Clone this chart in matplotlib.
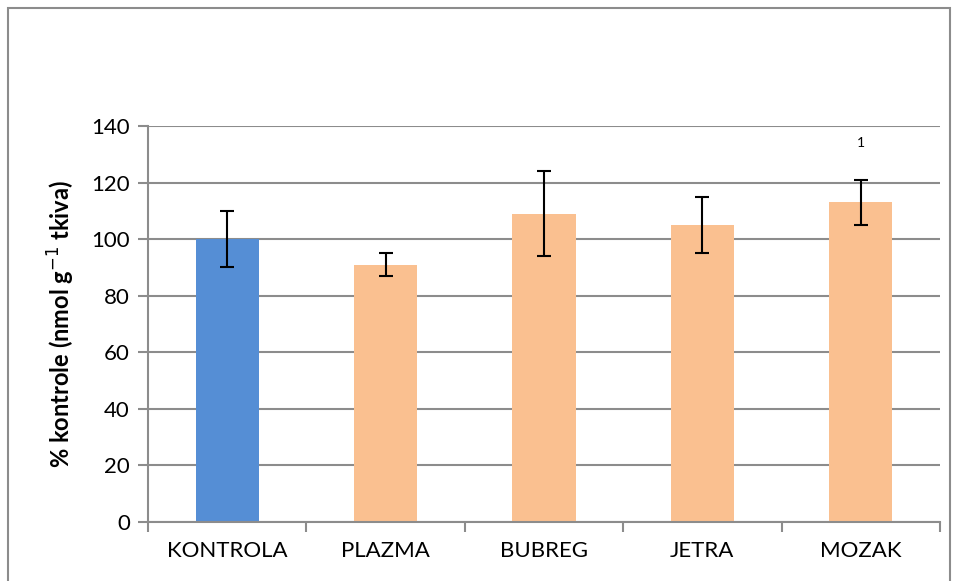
import numpy as np
import matplotlib.pyplot as plt
from matplotlib.patches import Rectangle

categories = ['KONTROLA', 'PLAZMA', 'BUBREG', 'JETRA', 'MOZAK']
values = [100, 91, 109, 105, 113]
errors = [10, 4, 15, 10, 8]
bar_colors = ['#558ED5', '#FAC090', '#FAC090', '#FAC090', '#FAC090']
note_text = '1'
note_value = 134

plt.rcParams['font.family'] = ['Lato', 'DejaVu Sans']

fig = plt.figure(figsize=(9.57, 5.81), dpi=100)
ax = fig.add_axes([0.1547, 0.1015, 0.8275, 0.6816])

x = np.arange(len(categories))
ax.bar(x, values, width=0.4, color=bar_colors, zorder=2)
ax.errorbar(x, values, yerr=errors, fmt='none', ecolor='black',
            elinewidth=1.5, capsize=5, capthick=1.5, zorder=3)
ax.text(x[-1], note_value, note_text, ha='center', va='center', fontsize=10)

ax.set_xlim(-0.5, len(categories) - 0.5)
ax.set_ylim(0, 140)
ax.set_yticks(np.arange(0, 141, 20))
ax.set_xticks(x)
ax.set_xticklabels(categories)
ax.set_xticks(np.arange(-0.5, len(categories), 1), minor=True)

ax.grid(axis='y', color='#8c8c8c', linewidth=1.5, zorder=0)
ax.set_axisbelow(True)
for s in ['top', 'right']:
    ax.spines[s].set_visible(False)
for s in ['left', 'bottom']:
    ax.spines[s].set_color('#8c8c8c')
    ax.spines[s].set_linewidth(1.5)

ax.tick_params(axis='x', which='major', length=0, pad=14, labelsize=16)
ax.tick_params(axis='x', which='minor', length=7, width=1.5, color='#8c8c8c')
ax.tick_params(axis='y', length=7, width=1.5, color='#8c8c8c', labelsize=16, pad=6)

ax.set_ylabel('% kontrole (nmol g$^{-1}$ tkiva)', fontsize=17, fontweight='bold', labelpad=10)

fig.patches.append(Rectangle((8 / 957, -0.05), 942 / 957, 1 - 8 / 581 + 0.05,
                             transform=fig.transFigure, fill=False,
                             edgecolor='#8c8c8c', linewidth=1.5))

fig.savefig('out.png', dpi=100)
